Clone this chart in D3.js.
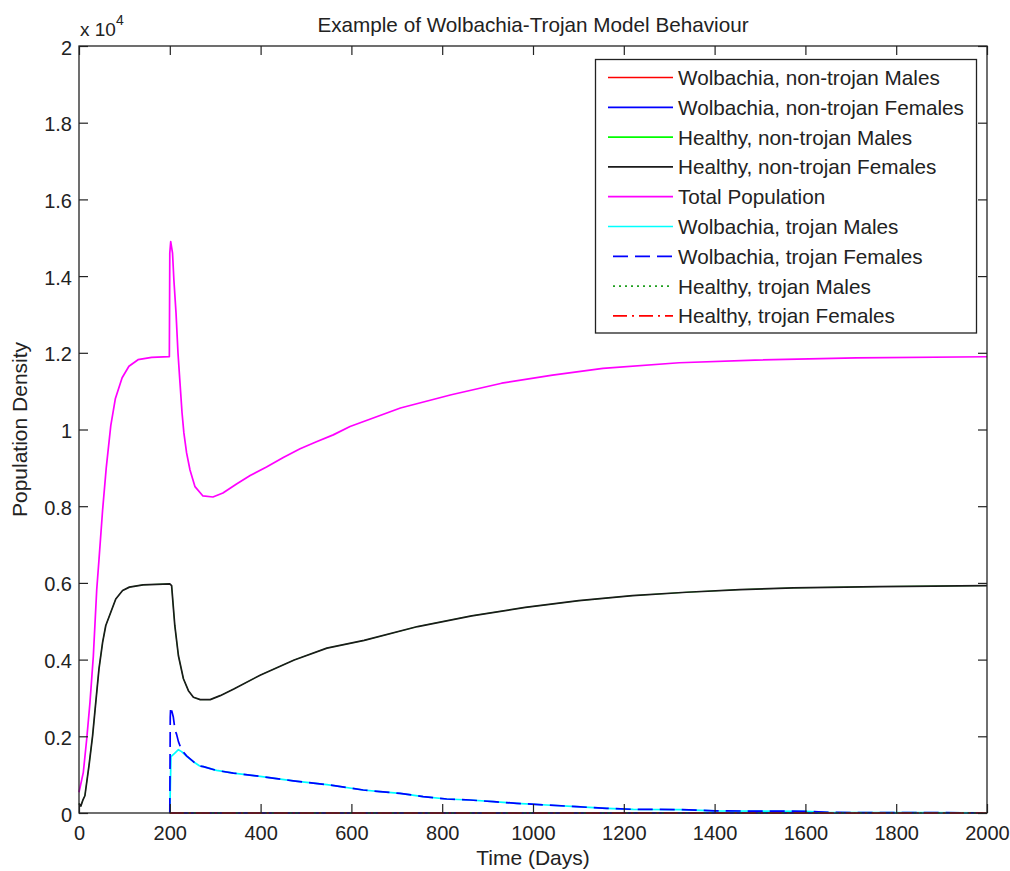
<!DOCTYPE html>
<html>
<head>
<meta charset="utf-8">
<script src="https://cdn.jsdelivr.net/npm/d3@7"></script>
<style>
  html, body { margin: 0; padding: 0; background: #fff; }
  svg { display: block; }
  text { font-family: "Liberation Sans", Arial, sans-serif; fill: #222; }
</style>
</head>
<body>
<svg id="chart" width="1010" height="871"></svg>
<script>
// ---------------- DATA ----------------
const xTicks = [0, 200, 400, 600, 800, 1000, 1200, 1400, 1600, 1800, 2000];
const yTicks = [0, 2000, 4000, 6000, 8000, 10000, 12000, 14000, 16000, 18000, 20000];

const seriesNames = [
  "Wolbachia, non-trojan Males",
  "Wolbachia, non-trojan Females",
  "Healthy, non-trojan Males",
  "Healthy, non-trojan Females",
  "Total Population",
  "Wolbachia, trojan Males",
  "Wolbachia, trojan Females",
  "Healthy, trojan Males",
  "Healthy, trojan Females"
];

// Total population (magenta)
const totalDays = [0, 9.5, 17, 24, 31.5, 39, 44, 52, 60, 70, 80, 95, 110, 130, 160, 199,
  200, 202, 204, 206, 209, 213.7, 218, 222.5, 227, 231, 237, 244.5, 255.5, 273, 295, 317,
  347, 377, 413, 450, 487, 523, 560, 597, 708, 820, 931, 1043, 1154, 1322, 1489, 1712, 2000];
const totalPop = [540, 1060, 1930, 2860, 4077, 5815, 6600, 7900, 9000, 10100, 10800, 11350, 11650, 11820, 11880, 11900,
  14600, 14900, 14750, 14600, 13900, 13040, 12000, 11210, 10430, 9910, 9390, 8945, 8510, 8267, 8240, 8345,
  8580, 8800, 9020, 9270, 9500, 9680, 9860, 10080, 10560, 10905, 11207, 11420, 11595, 11740, 11810, 11870, 11897];

// Healthy, non-trojan Females (black)
const hnfDays = [0, 4, 9, 13, 22, 30, 37, 44, 52, 59, 70, 81, 96, 111, 141, 200,
  204, 211, 219, 230, 241, 252, 267, 289, 311, 341, 400, 474, 546, 628, 746, 865, 983,
  1101, 1219, 1338, 1456, 1574, 1763, 2000];
const hnfPop = [250, 180, 350, 450, 1235, 2017, 2890, 3757, 4450, 4890, 5235, 5580, 5800, 5890, 5950, 5975,
  5930, 4890, 4100, 3500, 3190, 3017, 2957, 2957, 3060, 3235, 3600, 3990, 4300, 4500, 4862, 5142, 5361,
  5536, 5668, 5756, 5826, 5870, 5905, 5931];

// Healthy, non-trojan Males (green, lies hidden under the black curve)
const hnmDays = hnfDays.slice();
const hnmPop = [250, 180, 350, 450, 1235, 2017, 2890, 3757, 4450, 4890, 5235, 5580, 5800, 5890, 5950, 5975,
  5930, 4890, 4100, 3500, 3190, 3017, 2957, 2957, 3060, 3235, 3600, 3990, 4300, 4500, 4862, 5142, 5361,
  5536, 5668, 5756, 5826, 5870, 5905, 5931];

// Wolbachia, trojan Females (blue dashed)
const wtfDays = [200, 201, 202, 207.6, 211.5, 215, 219, 226, 237, 252, 266, 274, 303, 340, 399, 472,
  546, 626, 663, 707, 758, 810, 861, 913, 964, 1030, 1096, 1162, 1221, 1324, 1400, 1600, 1650, 2000];
const wtfPop = [0, 2500, 2770, 2512, 2165, 2050, 1860, 1643, 1490, 1338, 1226, 1208, 1110, 1040, 955, 840,
  740, 600, 556, 513, 426, 365, 339, 295, 252, 208, 165, 122, 95, 90, 55, 45, 15, 5];

// Wolbachia, trojan Males (cyan)
const wtmDays = [200, 202.6, 210, 219, 226, 237, 252, 266, 274, 303, 340, 399, 472,
  546, 626, 663, 707, 758, 810, 861, 913, 964, 1030, 1096, 1162, 1221, 1324, 1400, 1600, 1650, 2000];
const wtmPop = [0, 1469, 1550, 1650, 1600, 1480, 1338, 1226, 1208, 1110, 1040, 955, 840,
  740, 600, 556, 513, 426, 365, 339, 295, 252, 208, 165, 122, 95, 90, 55, 45, 15, 5];

// Series that stay at (about) zero after the release at day 200
const wnmDays = [200, 2000]; const wnmPop = [0, 0];   // Wolbachia, non-trojan Males
const wnfDays = [200, 2000]; const wnfPop = [0, 0];   // Wolbachia, non-trojan Females
const htmDays = [200, 2000]; const htmPop = [0, 0];   // Healthy, trojan Males
const htfDays = [200, 2000]; const htfPop = [0, 0];   // Healthy, trojan Females

// ---------------- CHART ----------------
const svg = d3.select("#chart");
const margin = { left: 79, top: 46, right: 1010 - 987, bottom: 871 - 813 };
const W = 1010, H = 871;
const x = d3.scaleLinear().domain([0, 2000]).range([margin.left, W - margin.right]);
const y = d3.scaleLinear().domain([0, 20000]).range([H - margin.bottom, margin.top]);

const styles = [
  { color: "#ff0000", dash: null, w: 1.7 },
  { color: "#0000ff", dash: null, w: 1.7 },
  { color: "#00ff00", dash: null, w: 0.8 },
  { color: "#1a1a1a", dash: null, w: 1.7 },
  { color: "#ff00ff", dash: null, w: 1.7 },
  { color: "#00ffff", dash: null, w: 1.7 },
  { color: "#0000ff", dash: "15,7", w: 1.7 },
  { color: "#1f9f1f", dash: "2,4", w: 1.7 },
  { color: "#ff0000", dash: "14,5,2,5", w: 1.7 }
];
const seriesData = [
  [wnmDays, wnmPop], [wnfDays, wnfPop], [hnmDays, hnmPop], [hnfDays, hnfPop], [totalDays, totalPop],
  [wtmDays, wtmPop], [wtfDays, wtfPop], [htmDays, htmPop], [htfDays, htfPop]
];

const line = d3.line().x(d => x(d[0])).y(d => y(d[1]));
const plot = svg.append("g");
seriesData.forEach((s, i) => {
  const pts = s[0].map((d, j) => [d, s[1][j]]);
  plot.append("path")
    .attr("d", line(pts))
    .attr("fill", "none")
    .attr("stroke", styles[i].color)
    .attr("stroke-width", styles[i].w)
    .attr("stroke-dasharray", styles[i].dash)
    .attr("stroke-linejoin", "round");
});

// Axes with inward ticks on all four sides
const tickLen = 9;
const fmtY = d => String(+(d / 1e4).toFixed(1));
const axB = svg.append("g").attr("transform", `translate(0,${y(0)})`)
  .call(d3.axisBottom(x).tickValues(xTicks).tickSizeInner(-tickLen).tickSizeOuter(0).tickPadding(13).tickFormat(d3.format("d")));
const axT = svg.append("g").attr("transform", `translate(0,${y(20000)})`)
  .call(d3.axisTop(x).tickValues(xTicks).tickSizeInner(-tickLen).tickSizeOuter(0).tickFormat(""));
const axL = svg.append("g").attr("transform", `translate(${x(0)},0)`)
  .call(d3.axisLeft(y).tickValues(yTicks).tickSizeInner(-tickLen).tickSizeOuter(0).tickPadding(7).tickFormat(fmtY));
const axR = svg.append("g").attr("transform", `translate(${x(2000)},0)`)
  .call(d3.axisRight(y).tickValues(yTicks).tickSizeInner(-tickLen).tickSizeOuter(0).tickFormat(""));
[axB, axT, axL, axR].forEach(a => {
  a.select(".domain").remove();
  a.selectAll("line").attr("stroke", "#222").attr("stroke-width", 1.2);
  a.selectAll("text").style("font-size", "20px").attr("fill", "#222");
});
axB.selectAll("text").attr("dy", "0.71em");
axL.selectAll("text").attr("dy", "0.40em");

svg.append("rect")
  .attr("x", x(0)).attr("y", y(20000))
  .attr("width", x(2000) - x(0)).attr("height", y(0) - y(20000))
  .attr("fill", "none").attr("stroke", "#222").attr("stroke-width", 1.3);

// Exponent label
const ex = svg.append("text").attr("x", 80).attr("y", 36).style("font-size", "19px");
ex.append("tspan").text("x 10");
ex.append("tspan").attr("dy", -11).style("font-size", "14px").text("4");

// Title and axis labels
svg.append("text").attr("x", (x(0) + x(2000)) / 2).attr("y", 32)
  .attr("text-anchor", "middle").style("font-size", "20.7px")
  .text("Example of Wolbachia-Trojan Model Behaviour");
svg.append("text").attr("x", (x(0) + x(2000)) / 2).attr("y", 865)
  .attr("text-anchor", "middle").style("font-size", "21px")
  .text("Time (Days)");
svg.append("text")
  .attr("transform", `translate(27,${(y(0) + y(20000)) / 2}) rotate(-90)`)
  .attr("text-anchor", "middle").style("font-size", "21px")
  .text("Population Density");

// Legend
const lg = svg.append("g");
lg.append("rect").attr("x", 595.5).attr("y", 59.5).attr("width", 381).attr("height", 273.5)
  .attr("fill", "#fff").attr("stroke", "#222").attr("stroke-width", 1.3);
seriesNames.forEach((name, i) => {
  const yy = 77.5 + i * 29.8;
  lg.append("line")
    .attr("x1", styles[i].dash ? 613 : 608).attr("x2", 673).attr("y1", yy).attr("y2", yy)
    .attr("stroke", styles[i].color).attr("stroke-width", 1.7)
    .attr("stroke-dasharray", styles[i].dash);
  lg.append("text").attr("x", 678).attr("y", yy).attr("dy", "0.36em")
    .style("font-size", "20.7px").text(name);
});
</script>
</body>
</html>
